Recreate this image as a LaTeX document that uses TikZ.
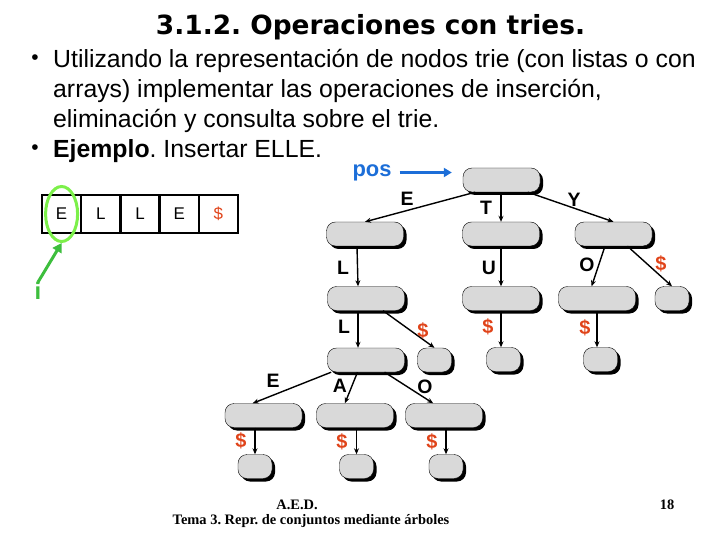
\documentclass[tikz,border=0pt]{standalone}
\usepackage{fontspec}
\setmainfont{Liberation Sans}
\newfontfamily\titlefont{DejaVu Sans}
\newfontfamily\footfont{Liberation Serif}
\usepackage{xcolor}
\usetikzlibrary{positioning,arrows.meta,shapes.geometric,calc,shadows}
\frenchspacing
\definecolor{nodefill}{HTML}{D9D9D9}
\definecolor{dolred}{HTML}{E0441A}
\definecolor{posblue}{HTML}{1C6ED8}
\definecolor{selgreen}{HTML}{7CF04A}
\definecolor{arrgreen}{HTML}{3DBE3D}
\tikzset{
  >={Stealth[length=6bp,width=5bp]},
  tnode/.style={draw=black, fill=nodefill, rounded corners=9bp, minimum width=77bp,
                minimum height=24bp, inner sep=0pt,
                drop shadow={shadow xshift=3bp, shadow yshift=-3bp, fill=black, opacity=1}},
  leaf/.style={tnode, minimum width=34bp},
  lbl/.style={font=\fontsize{19.5}{22}\selectfont\bfseries, inner sep=0pt},
  dol/.style={lbl, font=\fontsize{20}{22}\selectfont\bfseries, text=dolred},
  edge/.style={->, line width=1.4bp, draw=black},
  cell/.style={draw=black, line width=2.4bp, outer sep=0pt, minimum width=39.2bp,
               minimum height=38bp, inner sep=0pt, font=\fontsize{17}{19}\selectfont},
  body/.style={anchor=base west, inner sep=0pt, font=\fontsize{24.9}{30}\selectfont},
  dot/.style={inner sep=0pt, font=\fontsize{21}{24}\selectfont},
  foot/.style={inner sep=0pt, font=\footfont\bfseries\fontsize{14.5}{16}\selectfont},
}
\begin{document}
\begin{tikzpicture}[x=1bp,y=-1bp]
  \useasboundingbox (0,0) rectangle (720,540);
  % title and bullets
  \node[anchor=base, inner sep=0pt, font=\titlefont\bfseries\fontsize{26.5}{30}\selectfont] (title) at (370.5,35) {3.1.2. Operaciones con tries.};
  \node[dot] (bu1) at (35,60) {\textbullet};
  \node[body] (ln1) at (53,68) {Utilizando la representación de nodos trie (con listas o con};
  \node[body] (ln2) at (53,98) {arrays) implementar las operaciones de inserción,};
  \node[body] (ln3) at (53,128) {eliminación y consulta sobre el trie.};
  \node[dot] (bu2) at (35,150) {\textbullet};
  \node[body] (ln4) at (53,158) {\textbf{Ejemplo}. Insertar ELLE.};

  % the word as an array
  \node[cell] (c1) at (61.6,214) {E};
  \node[cell, right=0pt of c1] (c2) {L};
  \node[cell, right=0pt of c2] (c3) {L};
  \node[cell, right=0pt of c3] (c4) {E};
  \node[cell, right=0pt of c4, text=dolred] (c5) {\$};
  \node[draw=selgreen, line width=3bp, ellipse, minimum width=32bp, minimum height=55bp, inner sep=0pt] (sel) at (c1) {};
  \node[inner sep=0pt, text=arrgreen, font=\fontsize{24}{26}\selectfont\bfseries] (i) at (38,291) {i};
  \draw[line width=3bp, draw=arrgreen, -{Triangle[length=9bp,width=10bp]}] (i.north) -- (sel.south);

  % trie
  \node[tnode] (root) at (501.5,180) {};
  \node[tnode] (nE) at (365,234) {};
  \node[tnode] (nT) at (501,234) {};
  \node[tnode] (nY) at (613.5,234) {};
  \node[tnode] (nEL) at (366,298.5) {};
  \node[tnode] (nTU) at (501,298.5) {};
  \node[tnode] (nYO) at (597,298.5) {};
  \node[leaf] (nYs) at (672,298.5) {};
  \node[tnode] (nELL) at (366,360) {};
  \node[leaf] (nELs) at (434.5,360) {};
  \node[leaf] (nTUs) at (503.5,359.5) {};
  \node[leaf] (nYOs) at (600.5,359.5) {};
  \node[tnode] (nELLE) at (263.5,415.5) {};
  \node[tnode] (nELLA) at (355,415.5) {};
  \node[tnode] (nELLO) at (444,415.5) {};
  \node[leaf] (nELLEs) at (255,466.5) {};
  \node[leaf] (nELLAs) at (356.5,466.5) {};
  \node[leaf] (nELLOs) at (446,466.5) {};

  \node[inner sep=0pt, text=posblue, font=\fontsize{22}{24}\selectfont\bfseries] (pos) at (372,172.5) {pos};
  \draw[line width=3bp, draw=posblue, -{Triangle[length=8bp,width=9bp]}, shorten <=8bp, shorten >=11bp] (pos.east) -- (pos.east -| root.west);

  \draw[edge] ($(root.south west)!.16!(root.south east)$) -- (nE.north);
  \draw[edge] (nT.north |- root.south) -- (nT.north);
  \draw[edge] ($(root.south west)!.84!(root.south east)$) -- (nY.north);
  \draw[edge] ([xshift=-8bp]nE.south) -- ([xshift=-8bp]nEL.north);
  \draw[edge] (nTU.north |- nT.south) -- (nTU.north);
  \draw[edge] ($(nY.south west)!.39!(nY.south east)$) -- ($(nYO.north west)!.43!(nYO.north east)$);
  \draw[edge] ($(nY.south west)!.68!(nY.south east)$) -- (nYs.north);
  \draw[edge] ([xshift=-8bp]nEL.south) -- ([xshift=-8bp]nELL.north);
  \draw[edge] ($(nEL.south west)!.72!(nEL.south east)$) -- (nELs.north);
  \draw[edge] (nTU.south) -- (nTU.south |- nTUs.north);
  \draw[edge] (nYO.south) -- (nYO.south |- nYOs.north);
  \draw[edge] ($(nELL.south west)!.05!(nELL.south east)$) -- ($(nELLE.north west)!.36!(nELLE.north east)$);
  \draw[edge] ($(nELL.south west)!.39!(nELL.south east)$) -- ($(nELLA.north west)!.37!(nELLA.north east)$);
  \draw[edge] ($(nELL.south west)!.74!(nELL.south east)$) -- ($(nELLO.north west)!.36!(nELLO.north east)$);
  \draw[edge] (nELLEs.north |- nELLE.south) -- (nELLEs.north);
  \draw[edge] (nELLAs.north |- nELLA.south) -- (nELLAs.north);
  \draw[edge] (nELLOs.north |- nELLO.south) -- (nELLOs.north);

  % edge letters
  \node[lbl] (kE) at (407,199) {E};
  \node[lbl] (kT) at (486,208) {T};
  \node[lbl] (kY) at (574,200) {Y};
  \node[lbl] (kEL) at (343,268) {L};
  \node[lbl] (kTU) at (489,268) {U};
  \node[lbl] (kYO) at (587,265) {O};
  \node[dol] (kYs) at (661,264) {\$};
  \node[lbl] (kELL) at (344,327) {L};
  \node[dol] (kELs) at (423,331) {\$};
  \node[dol] (kTUs) at (488,327) {\$};
  \node[dol] (kYOs) at (585,328) {\$};
  \node[lbl] (kELLE) at (273,381) {E};
  \node[lbl] (kELLA) at (340,386) {A};
  \node[lbl] (kELLO) at (425,387) {O};
  \node[dol] (kELLEs) at (241,441) {\$};
  \node[dol] (kELLAs) at (342,442) {\$};
  \node[dol] (kELLOs) at (432,442) {\$};

  % footer
  \node[foot] (aed) at (297,505) {A.E.D.};
  \node[foot] (tema) at (311,521) {Tema 3. Repr. de conjuntos mediante árboles};
  \node[foot] (page) at (667,505) {18};
\end{tikzpicture}
\end{document}
